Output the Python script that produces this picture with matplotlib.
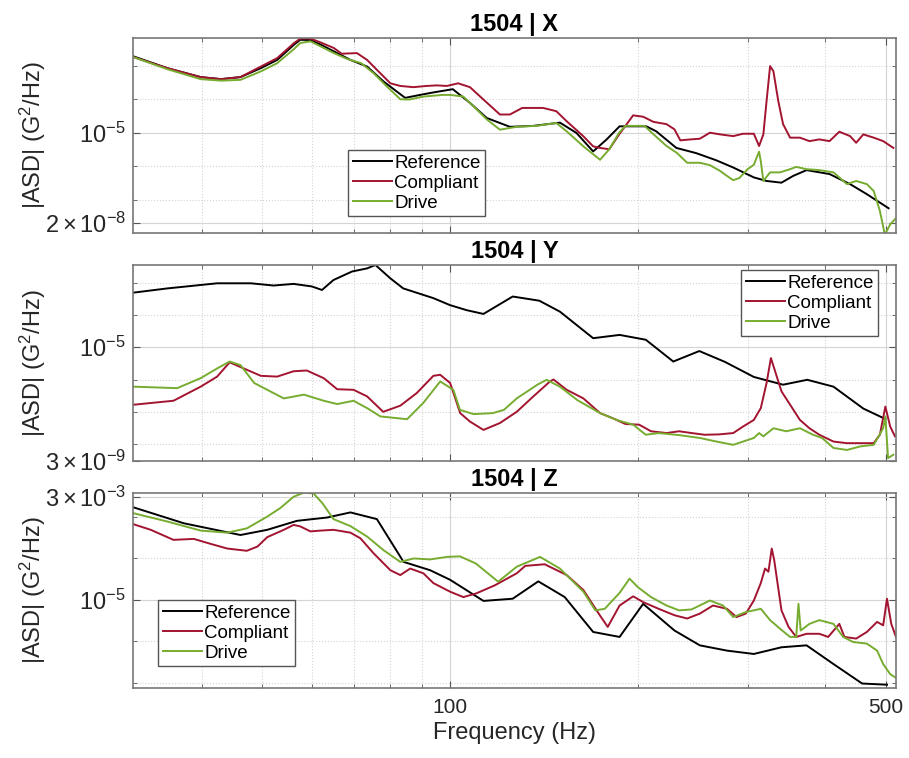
import matplotlib.pyplot as plt
from matplotlib.ticker import FixedLocator, NullFormatter

plt.rcParams['font.family'] = ['Liberation Sans', 'DejaVu Sans']
plt.rcParams['mathtext.fontset'] = 'custom'
plt.rcParams['mathtext.rm'] = 'Liberation Sans'
plt.rcParams['mathtext.it'] = 'Liberation Sans:italic'
plt.rcParams['mathtext.bf'] = 'Liberation Sans:bold'

# ---- 1504 | X ----
x_ref_freq = [31.1, 35.2, 39.8, 42.9, 46.1, 49.7, 52.8, 56.2, 57.5, 59.7, 62.0, 65.1, 69.2, 73.6, 78.2,
              84.7, 89.5, 94.0, 101, 107.6, 114.5, 124.7, 136, 150, 159.5, 169.6, 178.1, 187, 206.4,
              214.1, 230.6, 248.1, 267.1, 284.5, 307, 321.8, 340, 355, 373, 406, 438, 466, 505]
x_ref_asd = [1.9e-3, 8.5e-4, 4.6e-4, 4.0e-4, 4.6e-4, 8.5e-4, 1.5e-3, 4.3e-3, 6.0e-3, 5.9e-3, 4.3e-3, 2.7e-3,
             1.5e-3, 9.5e-4, 3.4e-4, 1.1e-4, 1.35e-4, 1.6e-4, 2.0e-4, 7.8e-5, 2.75e-5, 1.5e-5, 1.6e-5,
             2.0e-5, 9.8e-6, 2.75e-6, 6.2e-6, 1.55e-5, 1.55e-5, 1.1e-5, 3.5e-6, 2.45e-6, 1.5e-6, 9.1e-7,
             4.6e-7, 3.6e-7, 3.2e-7, 5.1e-7, 7.6e-7, 5.8e-7, 2.9e-7, 1.45e-7, 5.5e-8]

x_comp_freq = [31.1, 35.2, 39.8, 42.9, 46.1, 49.7, 52.8, 56.2, 57.5, 59.7, 62.0, 65.1, 67.0, 70.9, 73.6,
               76.3, 80.2, 83.2, 87.3, 91.8, 95.2, 98.8, 103, 107.6, 113.1, 120.2, 124.7, 130.5, 141, 148,
               153.8, 163.6, 169.6, 174, 180, 186.7, 196.6, 204, 212, 222.4, 229, 234, 243, 251.5, 261,
               271, 284.5, 295, 307, 313, 318, 321.8, 326, 330, 336, 342, 351, 364, 377, 391, 406, 421,
               438, 448, 460, 478, 495, 514]
x_comp_asd = [1.8e-3, 8.5e-4, 4.6e-4, 4.0e-4, 4.6e-4, 9.5e-4, 1.7e-3, 4.8e-3, 6.5e-3, 6.5e-3, 5.0e-3, 3.4e-3,
              2.3e-3, 2.4e-3, 1.5e-3, 7.6e-4, 3.0e-4, 2.5e-4, 2.3e-4, 2.5e-4, 2.6e-4, 2.5e-4, 3.0e-4,
              2.3e-4, 9.8e-5, 3.5e-5, 3.5e-5, 5.5e-5, 5.5e-5, 4.4e-5, 2.2e-5, 7.8e-6, 3.9e-6, 3.5e-6,
              3.2e-6, 8.9e-6, 3.3e-5, 3.0e-5, 2.1e-5, 1.8e-5, 1.26e-5, 5.9e-6, 6.3e-6, 6.6e-6, 1.0e-5,
              8.9e-6, 7.9e-6, 9.3e-6, 9.3e-6, 4.0e-6, 8.9e-6, 8.9e-5, 9.8e-4, 6.9e-4, 8.9e-5, 1.8e-5,
              7.1e-6, 7.1e-6, 5.6e-6, 6.3e-6, 5.6e-6, 1.07e-5, 7.9e-6, 5.0e-6, 8.9e-6, 7.1e-6, 5.6e-6,
              3.5e-6]

x_drive_freq = [31.1, 35.2, 39.8, 42.9, 46.1, 49.7, 52.8, 56.2, 57.5, 59.7, 62.0, 65.1, 68.4, 72.0, 75.4,
                79.2, 83.2, 86.0, 90.5, 97.3, 100, 105, 109, 114.5, 120.2, 127.9, 137.5, 148, 153.8, 163.6,
                174, 180, 186.7, 191, 205, 212, 222.4, 231, 240, 251.5, 261, 271, 278, 284.5, 291, 300,
                307, 313, 315, 318, 326, 338, 351, 359, 373, 391, 412, 433, 448, 466, 478, 489, 498, 508,
                517]
x_drive_asd = [1.8e-3, 7.9e-4, 4.0e-4, 3.6e-4, 3.8e-4, 6.8e-4, 1.2e-3, 3.2e-3, 4.8e-3, 5.4e-3, 3.8e-3,
               2.4e-3, 1.6e-3, 1.2e-3, 6.0e-4, 2.4e-4, 1.0e-4, 9.8e-5, 1.2e-4, 1.35e-4, 1.35e-4, 1.2e-4,
               6.2e-5, 2.5e-5, 1.23e-5, 1.5e-5, 1.6e-5, 1.95e-5, 1.1e-5, 3.9e-6, 1.55e-6, 3.2e-6, 1.0e-5,
               1.6e-5, 1.6e-5, 8.9e-6, 4.0e-6, 2.5e-6, 1.26e-6, 1.26e-6, 1.07e-6, 7.2e-7, 5.1e-7, 3.8e-7,
               4.4e-7, 8.1e-7, 1.1e-6, 2.7e-6, 1.4e-6, 3.6e-7, 6.5e-7, 6.5e-7, 8.1e-7, 9.5e-7, 8.1e-7,
               7.6e-7, 6.5e-7, 2.9e-7, 3.6e-7, 2.9e-7, 1.8e-7, 4.6e-8, 9.0e-9, 1.8e-8, 2.6e-8]

# ---- 1504 | Y ----
y_ref_freq = [31.1, 35.2, 42.3, 47.9, 52.1, 56.1, 60.0, 62.3, 65.0, 69.6, 73.6, 75.9, 80.2, 84.1, 94.0,
              100, 106.3, 113.1, 126, 139, 150, 169.6, 187, 206, 228, 251, 276, 307, 342, 374, 412, 460,
              499]
y_ref_asd = [4.9e-4, 6.6e-4, 9.5e-4, 9.5e-4, 8.1e-4, 9.1e-4, 7.6e-4, 5.9e-4, 1.2e-3, 2.2e-3, 2.75e-3,
             3.5e-3, 1.35e-3, 6.6e-4, 3.3e-4, 2.0e-4, 1.4e-4, 1.07e-4, 3.7e-4, 2.75e-4, 1.26e-4, 1.9e-5,
             2.4e-5, 1.7e-5, 3.6e-6, 7.6e-6, 3.5e-6, 1.2e-6, 6.9e-7, 9.8e-7, 6.0e-7, 1.26e-7, 6.0e-8]

y_comp_freq = [31.1, 36.0, 39.8, 42.3, 44.3, 47.2, 49.7, 52.8, 56.1, 58.9, 62.7, 65.9, 70.0, 73.6, 78.1,
               83.2, 88.4, 94.0, 96.4, 100, 103.8, 107.6, 113.1, 120.2, 127.9, 136, 144.6, 146.5, 153.8,
               163.6, 174, 182.5, 191, 201, 210, 222.4, 233, 244, 256, 270, 284.5, 295, 307, 315, 321.8,
               327, 331, 340, 351, 364, 377, 391, 412, 433, 455, 478, 489, 499, 508, 517]
y_comp_asd = [1.66e-7, 2.2e-7, 6.0e-7, 1.23e-6, 3.4e-6, 2.0e-6, 1.3e-6, 1.23e-6, 1.8e-6, 1.9e-6, 1.1e-6,
              5.0e-7, 4.8e-7, 3.0e-7, 1.0e-7, 1.55e-7, 3.8e-7, 1.3e-6, 1.4e-6, 7.8e-7, 9.1e-8, 5.0e-8,
              2.75e-8, 4.5e-8, 1.0e-7, 3.0e-7, 8.7e-7, 1.0e-6, 4.8e-7, 2.6e-7, 9.1e-8, 6.3e-8, 4.2e-8,
              4.0e-8, 2.5e-8, 2.2e-8, 2.5e-8, 2.2e-8, 1.95e-8, 2.0e-8, 2.2e-8, 3.5e-8, 5.6e-8, 1.3e-7,
              7.8e-7, 4.6e-6, 2.2e-6, 4.3e-7, 1.66e-7, 5.6e-8, 3.1e-8, 1.95e-8, 1.2e-8, 1.07e-8, 1.07e-8,
              1.07e-8, 1.95e-8, 1.45e-7, 3.5e-8, 1.74e-8]

y_drive_freq = [31.1, 36.5, 39.8, 42.3, 44.3, 46.1, 48.5, 50.9, 54.1, 58.3, 62.7, 65.9, 70.0, 73.6, 77.3,
                85.3, 90.6, 96.4, 101.2, 103.7, 109, 117, 122, 127.9, 138, 142.8, 150, 160, 174, 184.9,
                196.6, 206, 216, 233, 251.5, 267.5, 284.5, 295, 307, 313, 318, 330, 346, 364, 382, 395,
                412, 433, 455, 478, 495, 499, 504, 514]
y_drive_asd = [6.0e-7, 5.4e-7, 1.1e-6, 2.2e-6, 3.6e-6, 2.8e-6, 7.8e-7, 4.8e-7, 2.6e-7, 3.4e-7, 2.2e-7,
               1.74e-7, 2.2e-7, 1.3e-7, 7.2e-8, 5.9e-8, 1.9e-7, 8.7e-7, 4.8e-7, 1.15e-7, 8.5e-8, 9.1e-8,
               1.15e-7, 2.6e-7, 6.9e-7, 9.8e-7, 6.0e-7, 2.3e-7, 9.1e-8, 5.6e-8, 4.0e-8, 1.95e-8, 2.2e-8,
               1.9e-8, 1.55e-8, 1.2e-8, 9.5e-9, 1.2e-8, 1.55e-8, 2.2e-8, 1.74e-8, 3.1e-8, 2.5e-8, 3.1e-8,
               1.95e-8, 1.55e-8, 7.6e-9, 6.6e-9, 8.5e-9, 9.5e-9, 3.1e-8, 7.2e-8, 3.7e-9, 4.7e-9]

# ---- 1504 | Z ----
z_ref_freq = [31.1, 37.4, 46.1, 50.9, 56.8, 63.5, 69.2, 76.3, 84.2, 92.9, 100, 113.1, 126, 138.5, 152.7,
              169.6, 187, 204, 229, 251.5, 278, 307, 340, 373, 412, 458, 502]
z_ref_asd = [1.66e-3, 6.9e-4, 3.6e-4, 4.8e-4, 7.9e-4, 9.5e-4, 1.26e-3, 8.7e-4, 8.1e-5, 5.1e-5, 3.0e-5,
             9.3e-6, 1.05e-5, 2.75e-5, 1.15e-5, 1.66e-6, 1.26e-6, 7.9e-6, 1.8e-6, 7.9e-7, 5.9e-7, 4.9e-7,
             7.1e-7, 7.9e-7, 2.8e-7, 9.5e-8, 8.9e-8]

z_comp_freq = [31.1, 33.1, 36.0, 38.8, 41.3, 43.9, 47.2, 49.1, 50.9, 54.1, 56.1, 57.5, 59.7, 62.0, 65.0,
               69.2, 71.8, 75.4, 80.2, 83.2, 86.3, 90.6, 94.0, 100, 105, 110, 117.9, 127.9, 132, 141.8,
               153.8, 163.6, 173.8, 179, 187, 196.6, 204, 216, 229, 240, 251.5, 264, 278, 288, 298, 307,
               315, 320, 324, 328, 331, 340, 349, 359, 373, 391, 404, 421, 429, 448, 466, 484, 495, 502,
               510, 519]
z_comp_asd = [6.5e-4, 4.8e-4, 2.75e-4, 2.9e-4, 2.2e-4, 1.7e-4, 1.5e-4, 1.9e-4, 3.2e-4, 4.8e-4, 6.3e-4,
              5.8e-4, 4.4e-4, 4.6e-4, 4.8e-4, 4.1e-4, 3.0e-4, 1.3e-4, 5.1e-5, 3.9e-5, 5.6e-5, 4.3e-5,
              2.5e-5, 1.55e-5, 1.15e-5, 1.4e-5, 2.2e-5, 4.3e-5, 6.5e-5, 7.1e-5, 3.9e-5, 1.7e-5, 4.2e-6,
              2.2e-6, 7.2e-6, 1.2e-5, 8.7e-6, 6.0e-6, 4.2e-6, 3.5e-6, 4.6e-6, 7.2e-6, 6.0e-6, 3.8e-6,
              4.6e-6, 9.5e-6, 2.5e-5, 5.6e-5, 4.7e-5, 1.7e-4, 8.9e-5, 5.5e-6, 2.2e-6, 1.26e-6, 1.5e-6,
              1.5e-6, 1.26e-6, 2.6e-6, 1.26e-6, 1.15e-6, 1.66e-6, 2.9e-6, 2.4e-6, 1.05e-5, 2.6e-6, 1.26e-6]

z_drive_freq = [31.1, 35.2, 39.8, 43.9, 47.2, 50.9, 53.4, 56.1, 58.3, 60.4, 62.4, 65.0, 69.2, 73.6, 78.2,
                83.2, 87.4, 92.9, 99, 103.7, 110, 119.4, 127.9, 139.4, 150, 163.6, 171, 177, 187, 194,
                200, 210, 222.4, 233, 244, 261, 274, 284.5, 298, 315, 326, 338, 351, 359, 362, 365, 377,
                391, 412, 427, 443, 466, 484, 495, 508, 517]
z_drive_asd = [1.2e-3, 7.6e-4, 4.6e-4, 4.1e-4, 5.2e-4, 1.0e-3, 1.6e-3, 3.0e-3, 3.8e-3, 3.6e-3, 2.1e-3,
               8.7e-4, 5.9e-4, 3.3e-4, 1.55e-4, 8.1e-5, 9.8e-5, 9.3e-5, 1.07e-4, 1.1e-4, 7.4e-5, 2.7e-5,
               6.2e-5, 1.07e-4, 5.6e-5, 1.55e-5, 5.5e-6, 6.0e-6, 1.45e-5, 3.2e-5, 2.0e-5, 1.15e-5, 7.2e-6,
               5.5e-6, 5.8e-6, 9.5e-6, 7.2e-6, 3.8e-6, 5.0e-6, 6.0e-6, 3.2e-6, 2.0e-6, 1.26e-6, 1.26e-6,
               7.9e-6, 1.8e-6, 2.6e-6, 3.2e-6, 2.6e-6, 1.26e-6, 9.5e-7, 8.7e-7, 5.9e-7, 2.8e-7, 1.6e-7,
               1.35e-7]

series_names = ['Reference', 'Compliant', 'Drive']
series_colors = ['#000000', '#A2142F', '#77AC30']
panel_titles = ['1504 | X', '1504 | Y', '1504 | Z']
y_limits = [(1e-8, 6.8e-3), (3e-9, 3.5e-3), (7.4e-8, 3.7e-3)]
y_ticks = [[2e-8, 1e-5], [3e-9, 1e-5], [1e-5, 3e-3]]
y_ticklabels = [[r'$2\times10^{-8}$', r'$10^{-5}$'],
                [r'$3\times10^{-9}$', r'$10^{-5}$'],
                [r'$10^{-5}$', r'$3\times10^{-3}$']]
y_minor = [[1e-7, 1e-6, 1e-4, 1e-3], [1e-8, 1e-7, 1e-6, 1e-4, 1e-3], [1e-7, 1e-6, 1e-4, 1e-3]]

panel_data = [
    [(x_ref_freq, x_ref_asd), (x_comp_freq, x_comp_asd), (x_drive_freq, x_drive_asd)],
    [(y_ref_freq, y_ref_asd), (y_comp_freq, y_comp_asd), (y_drive_freq, y_drive_asd)],
    [(z_ref_freq, z_ref_asd), (z_comp_freq, z_comp_asd), (z_drive_freq, z_drive_asd)],
]

# legend anchors (axes fraction of upper-left corner)
legend_pos = [(0.282, 0.426), (0.797, 0.974), (0.033, 0.451)]

fig = plt.figure(figsize=(9.09, 7.58), dpi=100)
axes_rects = [[0.1463, 0.6926, 0.8394, 0.2573],
              [0.1463, 0.3918, 0.8394, 0.2586],
              [0.1463, 0.0923, 0.8394, 0.2573]]

for i in range(3):
    ax = fig.add_axes(axes_rects[i])
    for (freq, asd), name, col in zip(panel_data[i], series_names, series_colors):
        ax.plot(freq, asd, color=col, lw=1.4, label=name)

    ax.set_xscale('log')
    ax.set_yscale('log')
    ax.set_xlim(31, 519)
    ax.set_ylim(*y_limits[i])

    ax.xaxis.set_major_locator(FixedLocator([100, 500]))
    ax.xaxis.set_minor_locator(FixedLocator([40, 50, 60, 70, 80, 90, 200, 300, 400]))
    ax.xaxis.set_minor_formatter(NullFormatter())
    ax.yaxis.set_major_locator(FixedLocator(y_ticks[i]))
    ax.set_yticklabels(y_ticklabels[i])
    ax.yaxis.set_minor_locator(FixedLocator(y_minor[i]))
    ax.yaxis.set_minor_formatter(NullFormatter())
    if i < 2:
        ax.set_xticklabels([])
    else:
        ax.set_xticklabels(['100', '500'])
        ax.set_xlabel('Frequency (Hz)', fontsize=17, color='#262626', labelpad=4)

    ax.grid(which='major', color='#d4d4d4', lw=0.8, ls='-')
    ax.grid(which='minor', color='#d4d4d4', lw=0.8, ls=':')
    ax.set_axisbelow(True)

    ax.tick_params(which='both', direction='in', top=True, right=True, colors='#555555',
                   labelcolor='#262626')
    ax.tick_params(which='major', length=5)
    ax.tick_params(which='minor', length=3)
    ax.tick_params(axis='x', pad=7, labelsize=15)
    ax.tick_params(axis='y', pad=5, labelsize=17)
    for sp in ax.spines.values():
        sp.set_color('#777777')
        sp.set_linewidth(1.2)

    ax.set_title(panel_titles[i], fontsize=17, fontweight='bold', pad=5)
    ax.set_ylabel('|ASD| (G$^2$/Hz)', fontsize=17, color='#262626')
    ax.yaxis.set_label_coords(-0.112, 0.5)

    leg = ax.legend(loc='upper left', bbox_to_anchor=legend_pos[i], borderaxespad=0,
                    fontsize=13.5, fancybox=False, framealpha=1, edgecolor='#555555',
                    handlelength=2.1, handletextpad=0.1, labelspacing=0.15, borderpad=0.25)
    leg.get_frame().set_linewidth(1.0)

fig.savefig('out.png', dpi=100)
